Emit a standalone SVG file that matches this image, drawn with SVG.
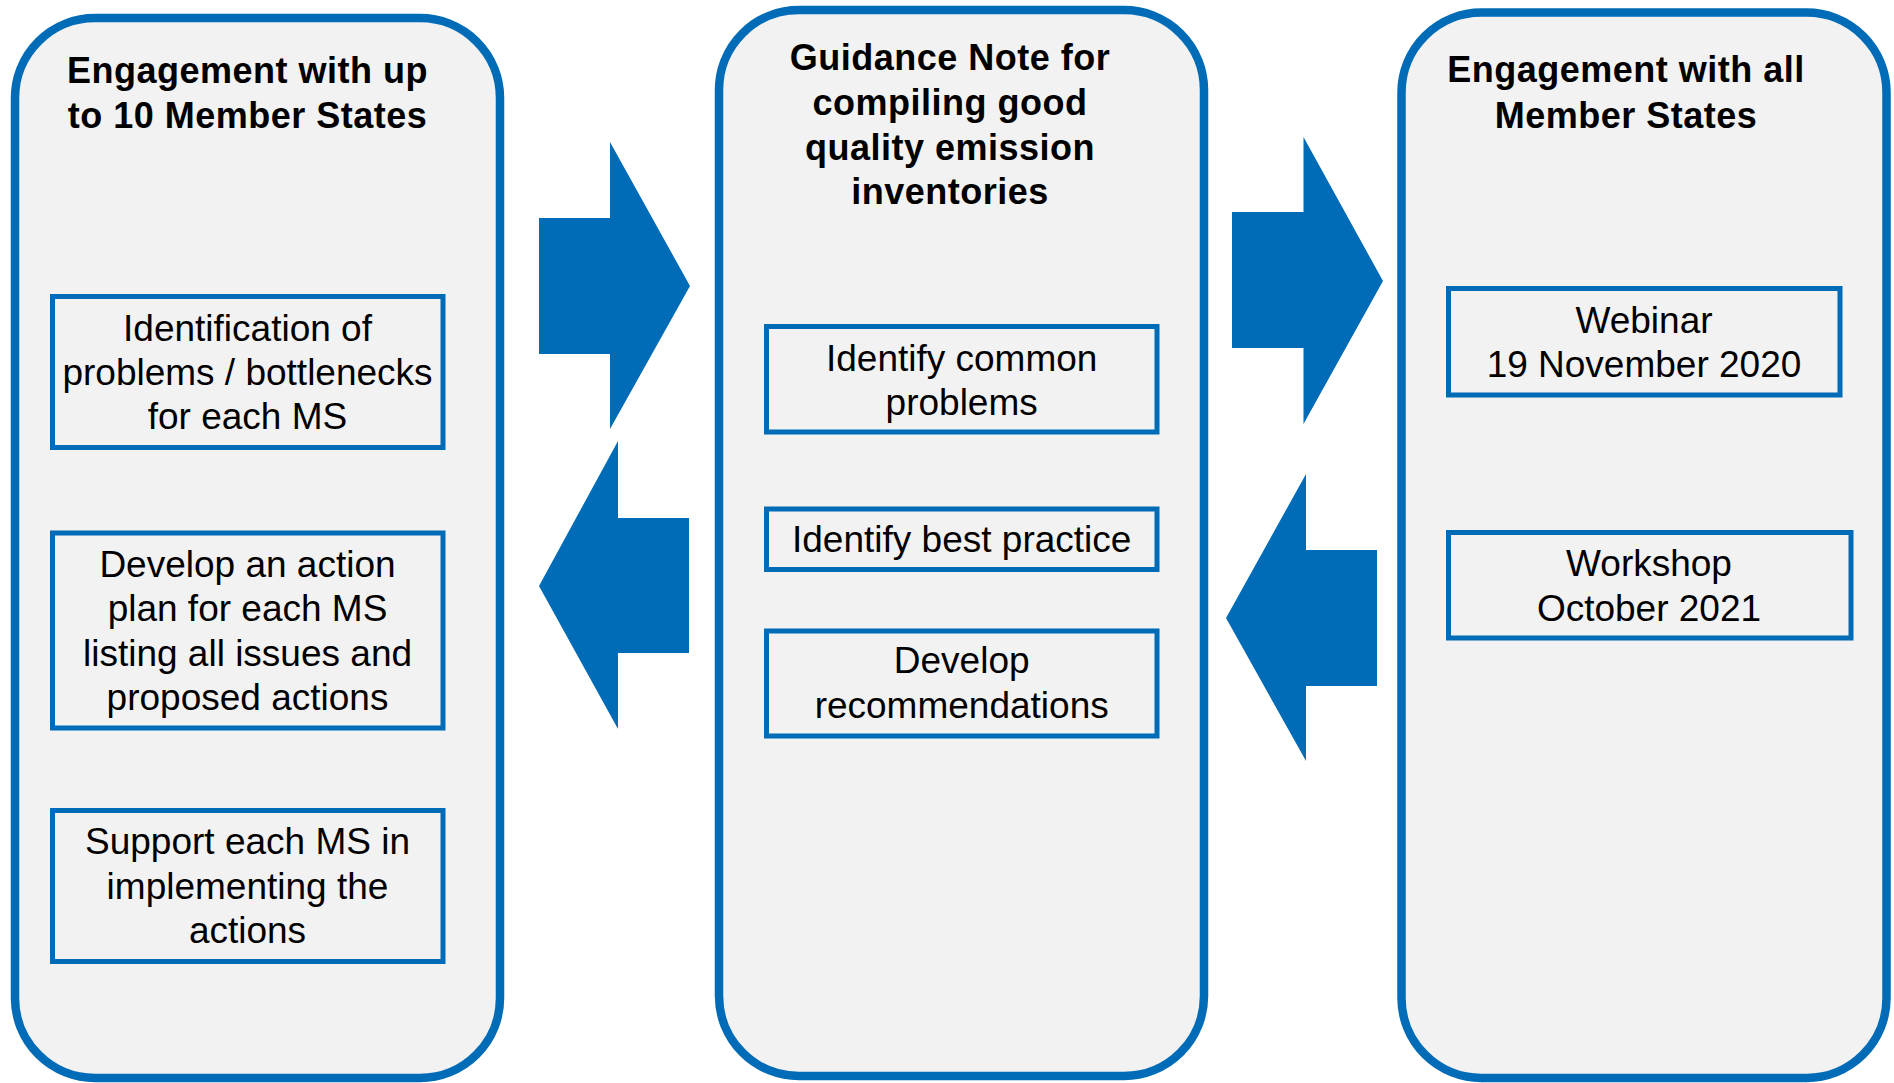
<svg xmlns="http://www.w3.org/2000/svg" width="1894" height="1083" viewBox="0 0 1894 1083">
  <style>
    .panel { fill: #F2F2F2; stroke: #006BB6; stroke-width: 8.5; }
    .box { fill: #F2F2F2; stroke: #006BB6; stroke-width: 5; }
    .arrow { fill: #006BB6; stroke: none; }
    .hdr { font-family: "Liberation Sans", Arial, sans-serif; font-weight: bold; font-size: 36px; letter-spacing: 0.5px; fill: #000; text-anchor: middle; }
    .txt { font-family: "Liberation Sans", Arial, sans-serif; font-size: 37px; fill: #000; text-anchor: middle; }
  </style>
  <rect width="1894" height="1083" fill="#FFFFFF"/>

  <g id="panel-left">
    <rect class="panel" x="15" y="18" width="485" height="1060" rx="80" ry="80"/>
    <text class="hdr" x="247.5" y="83">Engagement with up</text>
    <text class="hdr" x="247.5" y="128">to 10 Member States</text>
  </g>
  <g id="panel-middle">
    <rect class="panel" x="719" y="10" width="485" height="1066" rx="80" ry="80"/>
    <text class="hdr" x="950" y="70">Guidance Note for</text>
    <text class="hdr" x="950" y="114.5">compiling good</text>
    <text class="hdr" x="950" y="159.5">quality emission</text>
    <text class="hdr" x="950" y="204">inventories</text>
  </g>
  <g id="panel-right">
    <rect class="panel" x="1401.5" y="12.5" width="485" height="1065.5" rx="80" ry="80"/>
    <text class="hdr" x="1626" y="82">Engagement with all</text>
    <text class="hdr" x="1626" y="128">Member States</text>
  </g>

  <g id="box-identification">
    <rect class="box" x="52.5" y="296.5" width="390.5" height="151"/>
    <text class="txt" x="247.5" y="341">Identification of</text>
    <text class="txt" x="247.5" y="385">problems / bottlenecks</text>
    <text class="txt" x="247.5" y="429">for each MS</text>
  </g>
  <g id="box-action-plan">
    <rect class="box" x="52.5" y="533" width="390.5" height="195"/>
    <text class="txt" x="247.5" y="577">Develop an action</text>
    <text class="txt" x="247.5" y="621">plan for each MS</text>
    <text class="txt" x="247.5" y="665.5">listing all issues and</text>
    <text class="txt" x="247.5" y="709.5">proposed actions</text>
  </g>
  <g id="box-support">
    <rect class="box" x="52.5" y="810.5" width="390.5" height="151"/>
    <text class="txt" x="247.5" y="854">Support each MS in</text>
    <text class="txt" x="247.5" y="899">implementing the</text>
    <text class="txt" x="247.5" y="943">actions</text>
  </g>

  <g id="box-common-problems">
    <rect class="box" x="766.5" y="326.5" width="390.5" height="105.5"/>
    <text class="txt" x="961.7" y="371">Identify common</text>
    <text class="txt" x="961.7" y="415">problems</text>
  </g>
  <g id="box-best-practice">
    <rect class="box" x="766.5" y="509" width="390.5" height="60.5"/>
    <text class="txt" x="961.7" y="552">Identify best practice</text>
  </g>
  <g id="box-recommendations">
    <rect class="box" x="766.5" y="631" width="390.5" height="105"/>
    <text class="txt" x="961.7" y="673">Develop</text>
    <text class="txt" x="961.7" y="718">recommendations</text>
  </g>

  <g id="box-webinar">
    <rect class="box" x="1448.5" y="288.5" width="391.5" height="106.5"/>
    <text class="txt" x="1644" y="333">Webinar</text>
    <text class="txt" x="1644" y="377">19 November 2020</text>
  </g>
  <g id="box-workshop">
    <rect class="box" x="1448.5" y="532.5" width="402.5" height="105.5"/>
    <text class="txt" x="1649" y="576">Workshop</text>
    <text class="txt" x="1649" y="621">October 2021</text>
  </g>

  <g id="connectors">
    <polygon class="arrow" points="539,218 610,218 610,142 690,286 610,429 610,354 539,354"/>
    <polygon class="arrow" points="689,518 618,518 618,441 539,586 618,729 618,653 689,653"/>
    <polygon class="arrow" points="1232,212 1303.5,212 1303.5,137 1383,281 1303.5,424 1303.5,348 1232,348"/>
    <polygon class="arrow" points="1377,550 1306,550 1306,474 1226,618 1306,761 1306,686 1377,686"/>
  </g>
</svg>
